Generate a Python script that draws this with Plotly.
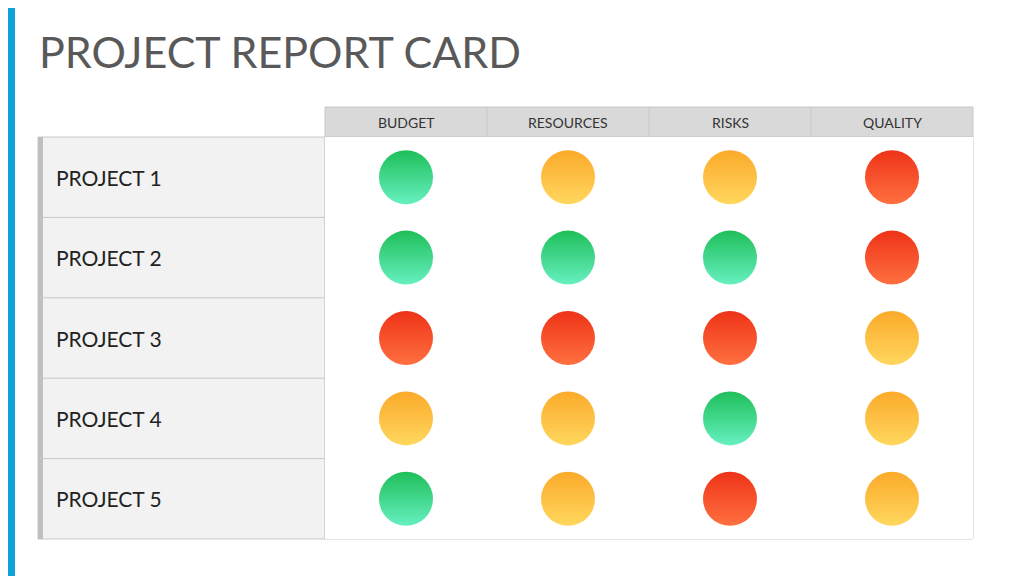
import plotly.graph_objects as go

columns = ["BUDGET", "RESOURCES", "RISKS", "QUALITY"]
projects = ["PROJECT 1", "PROJECT 2", "PROJECT 3", "PROJECT 4", "PROJECT 5"]
status = [
    ["G", "A", "A", "R"],
    ["G", "G", "G", "R"],
    ["R", "R", "R", "A"],
    ["A", "A", "G", "A"],
    ["G", "A", "R", "A"],
]
colors = {"G": ("#1fbf5a", "#66f0c0"), "A": ("#fbaa2a", "#ffd75e"), "R": ("#ee3318", "#ff7040")}

W, H = 1024, 576
OFF = 8  # page body margin compensation
gx0, gx1 = 325, 973
gy0, gy1 = 137, 539
hy0 = 107
lx0 = 38

fig = go.Figure()
shapes = []
shapes.append(dict(type="rect", x0=-20, x1=15, y0=-20, y1=H + 20, fillcolor="#0ea2dc", line_width=0, layer="below"))
shapes.append(dict(type="rect", x0=gx0, x1=gx1, y0=hy0, y1=gy0, fillcolor="#d9d9d9", line=dict(color="#c8c8c8", width=1), layer="below"))
shapes.append(dict(type="rect", x0=lx0, x1=gx0, y0=gy0, y1=gy1, fillcolor="#f2f2f2", line=dict(color="#c8c8c8", width=1), layer="below"))
shapes.append(dict(type="rect", x0=lx0, x1=lx0 + 5, y0=gy0, y1=gy1, fillcolor="#bfbfbf", line_width=0, layer="below"))
shapes.append(dict(type="rect", x0=gx0, x1=gx1, y0=gy0, y1=gy1, fillcolor="white", line=dict(color="#c8c8c8", width=1), layer="below"))
nc, nr = len(columns), len(projects)
cw = (gx1 - gx0) / nc
rh = (gy1 - gy0) / nr
for i in range(1, nc):
    shapes.append(dict(type="line", x0=gx0 + i * cw, x1=gx0 + i * cw, y0=hy0, y1=gy1, line=dict(color="#c8c8c8", width=1), layer="below"))
for j in range(1, nr):
    shapes.append(dict(type="line", x0=lx0, x1=gx1, y0=gy0 + j * rh, y1=gy0 + j * rh, line=dict(color="#c8c8c8", width=1), layer="below"))

annotations = [dict(x=37, y=51, xref="x", yref="y", text="PROJECT REPORT CARD", showarrow=False, xanchor="left",
                    yanchor="middle", font=dict(family="Lato", size=43, color="#595959"))]
for i, c in enumerate(columns):
    annotations.append(dict(x=c, y=(hy0 + gy0) / 2, xref="x2", yref="y", yanchor="middle", text=c, showarrow=False,
                            font=dict(family="Lato", size=14, color="#333")))
for j, p in enumerate(projects):
    annotations.append(dict(x=54, y=gy0 + (j + 0.5) * rh, xref="x", yref="y", text=p, showarrow=False, xanchor="left",
                            font=dict(family="Lato", size=21, color="#222")))

for key, (c0, c1) in colors.items():
    xs, ys = [], []
    for j, p in enumerate(projects):
        for i, c in enumerate(columns):
            if status[j][i] == key:
                xs.append(c); ys.append(p)
    fig.add_trace(go.Scatter(x=xs, y=ys, xaxis="x2", yaxis="y2", mode="markers", hoverinfo="skip",
                             marker=dict(size=54, color=c0, line_width=0, gradient=dict(type="vertical", color=c1))))

fig.update_layout(
    width=W, height=H, margin=dict(l=0, r=0, t=0, b=0), showlegend=False,
    plot_bgcolor="white", paper_bgcolor="white", shapes=shapes, annotations=annotations,
    xaxis=dict(range=[OFF, W + OFF], visible=False, domain=[0, 1]),
    yaxis=dict(range=[H + OFF, OFF], visible=False, domain=[0, 1]),
    xaxis2=dict(domain=[(gx0 - OFF) / W, (gx1 - OFF) / W], anchor="y2", type="category", categoryarray=columns,
                range=[-0.5, nc - 0.5], visible=False),
    yaxis2=dict(domain=[1 - (gy1 - OFF) / H, 1 - (gy0 - OFF) / H], anchor="x2", type="category",
                categoryarray=projects[::-1], range=[-0.5, nr - 0.5], visible=False),
)
fig.write_html("out.html")
